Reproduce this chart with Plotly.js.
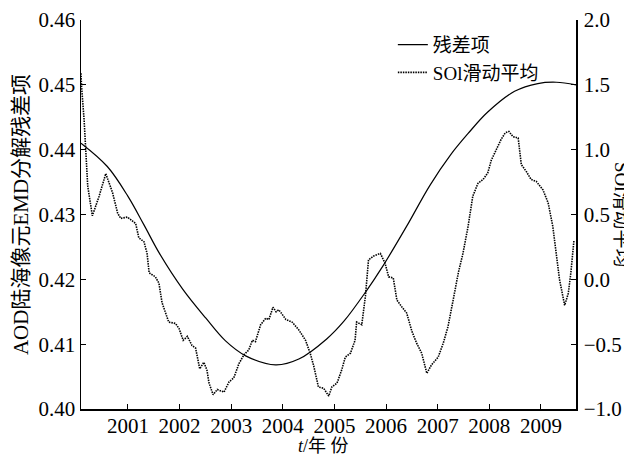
<!DOCTYPE html>
<html>
<head>
<meta charset="utf-8">
<script src="https://cdn.plot.ly/plotly-3.0.1.min.js"></script>
<style>html,body{margin:0;padding:0;background:#fff;}#chart{width:624px;height:457px;}</style>
</head>
<body>
<div id="chart"></div>
<script>
// Residual term (left axis)
const resYears = [2000.09, 2000.6, 2001.0, 2001.31, 2001.61, 2002.06, 2002.51, 2002.89, 2003.28, 2003.86, 2004.31, 2004.85, 2005.18, 2005.6, 2005.95, 2006.4, 2006.85, 2007.25, 2007.59, 2007.97, 2008.49, 2008.94, 2009.3, 2009.68];
const resValues = [0.4410, 0.4374, 0.4328, 0.4284, 0.4240, 0.4185, 0.4140, 0.4105, 0.4082, 0.4068, 0.4077, 0.4108, 0.4135, 0.4180, 0.4222, 0.4282, 0.4345, 0.4392, 0.4425, 0.4458, 0.4490, 0.4502, 0.4504, 0.4500];

// SOI moving average (right axis)
const soiYears = [2000.09, 2000.10, 2000.15, 2000.18, 2000.22, 2000.31, 2000.44, 2000.57, 2000.70, 2000.80, 2000.86, 2000.99,
  2001.15, 2001.21, 2001.31, 2001.37, 2001.41, 2001.53, 2001.60, 2001.66, 2001.79, 2001.92, 2001.99,
  2002.07, 2002.15, 2002.24, 2002.31, 2002.39, 2002.47, 2002.53, 2002.57, 2002.65, 2002.73, 2002.86, 2002.96,
  2003.05, 2003.15, 2003.25, 2003.34, 2003.41, 2003.47, 2003.57, 2003.67, 2003.73, 2003.81, 2003.87, 2003.92, 2003.97,
  2004.06, 2004.18, 2004.31, 2004.44, 2004.53, 2004.60, 2004.69, 2004.79, 2004.89, 2004.95,
  2005.05, 2005.14, 2005.21, 2005.31, 2005.40, 2005.43, 2005.53, 2005.60, 2005.63, 2005.66, 2005.76, 2005.89, 2005.98,
  2006.05, 2006.14, 2006.21, 2006.30, 2006.40, 2006.50, 2006.59, 2006.69, 2006.79, 2006.88,
  2007.01, 2007.11, 2007.20, 2007.30, 2007.40, 2007.49, 2007.59, 2007.68, 2007.78, 2007.88, 2007.97,
  2008.04, 2008.14, 2008.23, 2008.31, 2008.38, 2008.46, 2008.56, 2008.62, 2008.72, 2008.81, 2008.91,
  2009.04, 2009.14, 2009.23, 2009.30, 2009.36, 2009.46, 2009.53, 2009.58, 2009.64];
const soiValues = [1.59, 1.49, 1.23, 0.98, 0.72, 0.49, 0.64, 0.815, 0.67, 0.51, 0.47, 0.48,
  0.43, 0.32, 0.29, 0.20, 0.05, 0.02, -0.03, -0.18, -0.33, -0.34, -0.38,
  -0.47, -0.44, -0.51, -0.53, -0.69, -0.64, -0.70, -0.80, -0.89, -0.85, -0.87, -0.79,
  -0.76, -0.65, -0.58, -0.545, -0.47, -0.48, -0.35, -0.30, -0.31, -0.215, -0.25, -0.235, -0.26,
  -0.31, -0.33, -0.39, -0.47, -0.57, -0.67, -0.83, -0.84, -0.90, -0.83,
  -0.80, -0.70, -0.60, -0.57, -0.47, -0.33, -0.35, -0.13, 0.05, 0.15, 0.18, 0.20, 0.125,
  0.02, 0.01, -0.16, -0.21, -0.26, -0.40, -0.49, -0.57, -0.725, -0.66,
  -0.60, -0.49, -0.365, -0.16, 0.05, 0.20, 0.41, 0.64, 0.74, 0.77, 0.82,
  0.92, 1.00, 1.08, 1.13, 1.14, 1.10, 1.09, 0.885, 0.83, 0.77, 0.755,
  0.69, 0.59, 0.41, 0.20, 0.00, -0.20, -0.11, 0.05, 0.30];

const yearTicks = [2001, 2002, 2003, 2004, 2005, 2006, 2007, 2008, 2009];
const leftTicks = [0.40, 0.41, 0.42, 0.43, 0.44, 0.45, 0.46];
const rightTicks = [-1.0, -0.5, 0.0, 0.5, 1.0, 1.5, 2.0];

const xTitle = '<i>t</i>/年 份';
const yTitle = 'AOD陆海像元EMD分解残差项';
const y2Title = 'SOl滑动平均';

const FONT = "'Liberation Serif', 'Noto Sans CJK SC', serif";

const traces = [
  {x: resYears, y: resValues, type: 'scatter', mode: 'lines', name: '残差项',
   line: {color: '#000', width: 1.2, shape: 'spline', smoothing: 1}, yaxis: 'y'},
  {x: soiYears, y: soiValues, type: 'scatter', mode: 'lines', name: 'SOl滑动平均',
   line: {color: '#000', width: 1.6, dash: '1.5px,1px'}, yaxis: 'y2'}
];

const axisCommon = {
  showgrid: false, zeroline: false, showline: true, linecolor: '#000', linewidth: 1.5,
  ticks: 'inside', ticklen: 5, tickcolor: '#000', tickwidth: 1,
  tickfont: {family: FONT, size: 21, color: '#000'}
};

const layout = {
  width: 624, height: 457,
  margin: {l: 81, r: 48, t: 20, b: 48, pad: 0},
  paper_bgcolor: '#fff', plot_bgcolor: '#fff',
  font: {family: FONT, color: '#000'},
  showlegend: true,
  legend: {x: 0.63, y: 0.985, xanchor: 'left', yanchor: 'top', bgcolor: 'rgba(0,0,0,0)',
           font: {family: FONT, size: 19, color: '#000'}, itemwidth: 30, tracegroupgap: 0},
  xaxis: Object.assign({}, axisCommon, {
    range: [2000.09, 2009.68], tickvals: yearTicks, ticktext: yearTicks.map(String),
    ticklabelstandoff: -3
  }),
  yaxis: Object.assign({}, axisCommon, {
    range: [0.40, 0.46], tickvals: leftTicks, tickformat: '.2f',
    ticklabelstandoff: 0,
    title: {text: yTitle, font: {family: FONT, size: 21, color: '#000'}, standoff: 4}
  }),
  yaxis2: Object.assign({}, axisCommon, {
    overlaying: 'y', side: 'right', anchor: 'x',
    range: [-1.0, 2.0], tickvals: rightTicks, tickformat: '.1f',
    ticklabelstandoff: 2
  }),
  annotations: [
    {text: xTitle, xref: 'paper', yref: 'paper', x: 0.49, y: -0.094, xanchor: 'center', yanchor: 'middle',
     showarrow: false, font: {family: FONT, size: 18, color: '#000'}},
    {text: y2Title, xref: 'paper', yref: 'paper', x: 1.092, y: 0.5, xanchor: 'center', yanchor: 'middle',
     textangle: 90, showarrow: false, font: {family: FONT, size: 19, color: '#000'}}
  ]
};

Plotly.newPlot('chart', traces, layout, {staticPlot: true, displayModeBar: false});
</script>
</body>
</html>
